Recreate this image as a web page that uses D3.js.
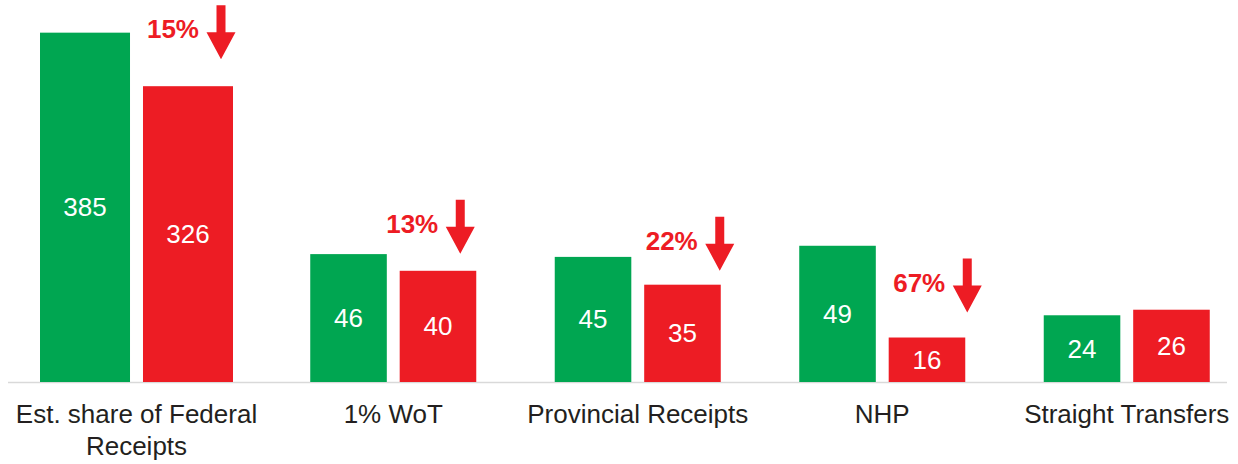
<!DOCTYPE html>
<html>
<head>
<meta charset="utf-8">
<script src="https://cdn.jsdelivr.net/npm/d3@7/dist/d3.min.js"></script>
<style>
  html, body { margin: 0; padding: 0; background: #fff; }
  svg { display: block; font-family: "Liberation Sans", Arial, sans-serif; }
</style>
</head>
<body>
<svg id="chart" width="1238" height="464"></svg>
<script>
// Category labels (the first one is plotted on its own, larger scale)
const categories = ["Est. share of Federal Receipts", "1% WoT", "Provincial Receipts", "NHP", "Straight Transfers"];
const beforeValues = [385, 46, 45, 49, 24];
const afterValues  = [326, 40, 35, 16, 26];

// Hand-placed nudges for the drop call-outs [dx, dy], one per category
const calloutNudge = [[-5, 6], [-9, -4], [6, -7], [9, 4], [0, 0]];

const COLORS = { before: "#00A651", after: "#ED1C24", text: "#231F20", axis: "#D9D9D9" };
const FONT = 26;

const svg = d3.select("#chart");
const baseY = 382;

// Secondary scale for the federal category, primary scale for the rest
const ySecondary = d3.scaleLinear().domain([0, 421]).range([baseY, 0]);
const yPrimary   = d3.scaleLinear().domain([0, 137.4]).range([baseY, 0]);

const xSecondary = d3.scaleBand().domain(categories.slice(0, 1))
  .range([8, 265]).paddingInner(0).paddingOuter(0.1658);
const xPrimary = d3.scaleBand().domain(categories.slice(1))
  .range([271, 1249]).paddingInner(0.321).paddingOuter(0.1605);

const series = ["before", "after"];
const subSecondary = d3.scaleBand().domain(series).range([0, xSecondary.bandwidth()]).paddingInner(0.126);
const subPrimary   = d3.scaleBand().domain(series).range([0, xPrimary.bandwidth()]).paddingInner(0.144);

const rows = categories.map((c, i) => {
  const secondary = i === 0;
  return {
    cat: c, i,
    before: beforeValues[i], after: afterValues[i],
    x: secondary ? xSecondary : xPrimary,
    sub: secondary ? subSecondary : subPrimary,
    y: secondary ? ySecondary : yPrimary
  };
});

// Baseline
svg.append("line")
  .attr("x1", 8).attr("x2", 1227)
  .attr("y1", baseY + 0.5).attr("y2", baseY + 0.5)
  .attr("stroke", COLORS.axis).attr("stroke-width", 1.3);

// Bars with value labels
rows.forEach(r => {
  const g = svg.append("g").attr("transform", `translate(${r.x(r.cat)},0)`);
  series.forEach(s => {
    const v = r[s];
    const x = r.sub(s), w = r.sub.bandwidth(), top = r.y(v);
    g.append("rect")
      .attr("x", x).attr("y", top)
      .attr("width", w).attr("height", baseY - top)
      .attr("fill", COLORS[s]);
    g.append("text")
      .attr("x", x + w / 2).attr("y", (top + baseY) / 2)
      .attr("text-anchor", "middle").attr("dominant-baseline", "central")
      .attr("fill", "#fff").attr("font-size", FONT)
      .text(v);
  });
});

// Category labels, wrapped to the band step
function wrapWords(text, maxWidth) {
  const probe = svg.append("text").attr("font-size", FONT).attr("visibility", "hidden");
  const words = text.split(" ");
  const lines = [];
  let line = [];
  words.forEach(w => {
    const trial = line.concat(w).join(" ");
    probe.text(trial);
    if (line.length && probe.node().getComputedTextLength() > maxWidth) {
      lines.push(line.join(" "));
      line = [w];
    } else {
      line.push(w);
    }
  });
  if (line.length) lines.push(line.join(" "));
  probe.remove();
  return lines;
}

rows.forEach(r => {
  const cx = r.x(r.cat) + r.x.bandwidth() / 2;
  const t = svg.append("text")
    .attr("text-anchor", "middle").attr("font-size", FONT).attr("fill", COLORS.text);
  wrapWords(r.cat, 250).forEach((ln, k) => {
    t.append("tspan").attr("x", cx).attr("y", 423 + k * 32).text(ln);
  });
});

// Drop call-outs: percentage and down arrow above each falling bar
rows.filter(r => r.after < r.before).forEach(r => {
  const pct = Math.round((r.before - r.after) / r.before * 100);
  const barLeft = r.x(r.cat) + r.sub("after");
  const barRight = barLeft + r.sub.bandwidth();
  const [nx, ny] = calloutNudge[r.i];
  const cx = barRight - 7 + nx;
  const tipY = r.y(r.after) - 21 - ny;

  const pts = [
    [cx - 4.5, tipY - 54], [cx + 4.5, tipY - 54], [cx + 4.5, tipY - 27],
    [cx + 14.5, tipY - 27], [cx, tipY], [cx - 14.5, tipY - 27], [cx - 4.5, tipY - 27]
  ];
  svg.append("polygon")
    .attr("points", pts.map(p => p.join(",")).join(" "))
    .attr("fill", COLORS.after);

  svg.append("text")
    .attr("x", cx - 22).attr("y", tipY - 21)
    .attr("text-anchor", "end")
    .attr("font-size", FONT).attr("font-weight", "bold")
    .attr("fill", COLORS.after)
    .text(pct + "%");
});
</script>
</body>
</html>
